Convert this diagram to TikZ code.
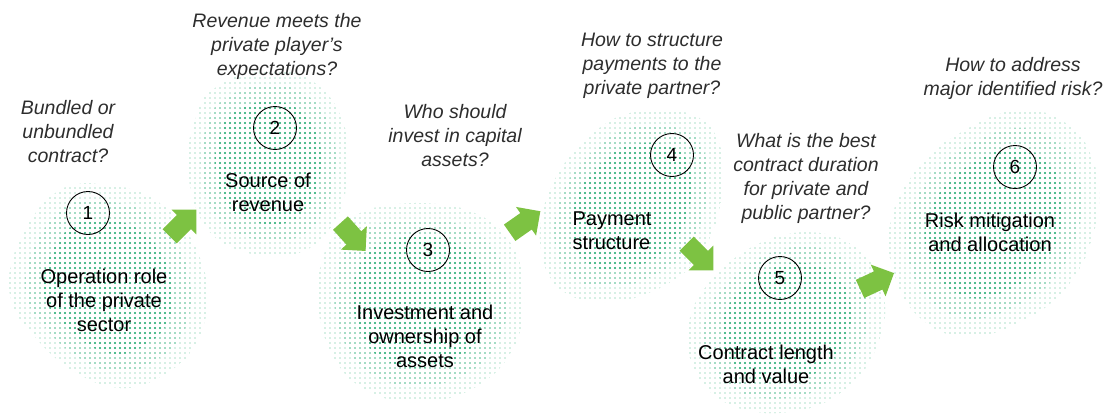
\documentclass[tikz,border=0pt]{standalone}
\usepackage{fontspec}
\setmainfont{Liberation Sans}
\usetikzlibrary{patterns.meta}
\definecolor{dotgreen}{RGB}{52,178,125}
\definecolor{arrowgreen}{RGB}{125,194,66}
\definecolor{qgray}{RGB}{45,45,45}
\tikzset{
  dotsA/.style={pattern={Dots[distance=5pt,radius=0.8pt]}, pattern color=dotgreen!40},
  dotsB/.style={pattern={Dots[distance=5pt,radius=0.95pt]}, pattern color=dotgreen!70},
  dotsC/.style={pattern={Dots[distance=5pt,radius=1.05pt]}, pattern color=dotgreen},
  num/.style={circle, draw, line width=0.9pt, minimum size=43pt, inner sep=0pt, font=\fontsize{19}{22}\selectfont},
  lbl/.style={align=center, font=\fontsize{20}{24}\selectfont, inner sep=0pt},
  qst/.style={align=center, font=\fontsize{19.5}{24}\selectfont\itshape, text=qgray, inner sep=0pt},
  fatarrow/.pic={\fill[arrowgreen] (-18.75,-10) -- (1.25,-10) -- (1.25,-17.5) -- (18.75,0) -- (1.25,17.5) -- (1.25,10) -- (-18.75,10) -- cycle;}
}
\newcommand\myblob[3]{%
  \fill[dotsA] plot[smooth cycle, tension=0.7] coordinates {#3};
  \begin{scope}[shift={(#1,#2)},scale=0.84,shift={(-#1,-#2)}]
    \fill[dotsB] plot[smooth cycle, tension=0.7] coordinates {#3};
  \end{scope}
  \begin{scope}[shift={(#1,#2)},scale=0.66,shift={(-#1,-#2)}]
    \fill[dotsC] plot[smooth cycle, tension=0.7] coordinates {#3};
  \end{scope}}
\begin{document}
\begin{tikzpicture}[x=1pt,y=-1pt]
\useasboundingbox (0,0) rectangle (1105,418);
% blobs
\myblob{108}{288}{(60,190) (115,186) (160,203) (192,240) (207,290) (197,342) (162,376) (120,388) (75,372) (35,337) (10,295) (20,240)}
\myblob{268}{162}{(215,88) (265,70) (315,83) (344,125) (347,180) (332,226) (296,254) (245,252) (205,226) (188,170) (195,120)}
\myblob{421}{302}{(360,213) (420,203) (477,214) (512,245) (524,292) (514,347) (476,387) (420,402) (368,391) (333,356) (318,300) (328,245)}
\myblob{630}{208}{(630,113) (687,113) (718,140) (722,195) (702,252) (662,287) (605,302) (558,287) (540,240) (553,183) (588,138)}
\myblob{786}{322}{(760,243) (820,233) (864,255) (884,295) (877,347) (842,392) (790,412) (733,406) (698,376) (688,330) (708,284)}
\myblob{995}{223}{(960,133) (1020,110) (1072,128) (1097,175) (1094,232) (1067,287) (1020,322) (965,337) (918,316) (893,270) (891,220) (918,168)}
% numbered circles
\node[num] (n1) at (88,213) {1};
\node[num] (n2) at (275,128) {2};
\node[num] (n3) at (428,250) {3};
\node[num] (n4) at (672,155) {4};
\node[num] (n5) at (780,278) {5};
\node[num] (n6) at (1015,167) {6};
% labels
\node[lbl] (l1) at (104,300) {Operation role\\of the private\\sector};
\node[lbl] (l2) at (268,192) {Source of\\revenue};
\node[lbl] (l3) at (425,336) {Investment and\\ownership of\\assets};
\node[lbl,align=left] (l4) at (612,231) {Payment\\structure};
\node[lbl] (l5) at (766,364) {Contract length\\and value};
\node[lbl] (l6) at (990,232) {Risk mitigation\\and allocation};
% questions
\node[qst] (q1) at (68,132) {Bundled or\\unbundled\\contract?};
\node[qst] (q2) at (277,46) {Revenue meets the\\private player’s\\expectations?};
\node[qst] (q3) at (455,136) {Who should\\invest in capital\\assets?};
\node[qst] (q4) at (652,66) {How to structure\\payments to the\\private partner?};
\node[qst] (q5) at (806,178) {What is the best\\contract duration\\for private and\\public partner?};
\node[qst] (q6) at (1013,78) {How to address\\major identified risk?};
% arrows
\pic[rotate=45] at (183,223) {fatarrow};
\pic[rotate=-48] at (353,237) {fatarrow};
\pic[rotate=35] at (525,222) {fatarrow};
\pic[rotate=-45] at (700,257) {fatarrow};
\pic[rotate=25] at (877,281) {fatarrow};
\end{tikzpicture}
\end{document}
